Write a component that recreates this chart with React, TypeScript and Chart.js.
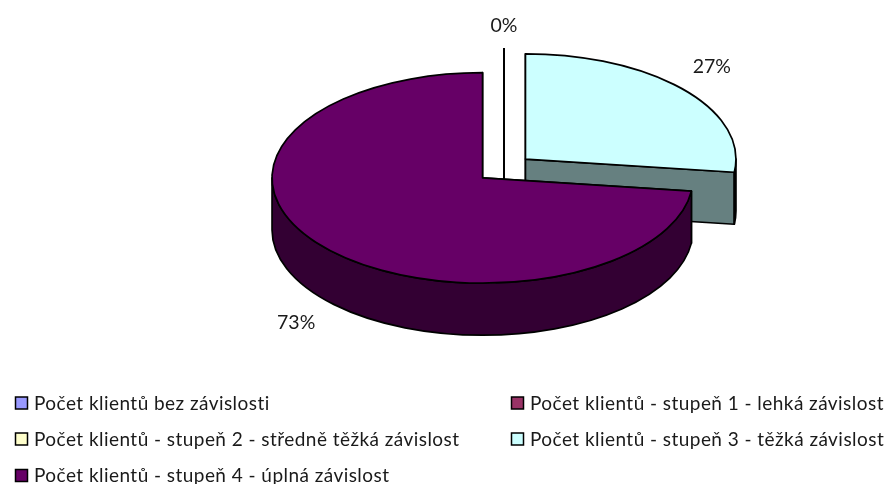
import React, { useEffect, useRef } from "react";
import { Chart, registerables } from "chart.js";

Chart.register(...registerables);

const categories = [
  "Počet klientů bez závislosti",
  "Počet klientů - stupeň 1 - lehká závislost",
  "Počet klientů - stupeň 2 - středně těžká závislost",
  "Počet klientů - stupeň 3 - těžká závislost",
  "Počet klientů - stupeň 4 - úplná závislost",
];
const shares = [0, 0, 0, 27, 73];
const topColors = ["#9999FF", "#993366", "#FFFFCC", "#CCFFFF", "#660066"];
const sideColors = ["#4D4D80", "#4D1A33", "#808066", "#668080", "#330033"];

const FONT = "Lato, Carlito, sans-serif";
const LABEL_SIZE = 19.5;
const LEGEND_SIZE = 19;
const SQUASH = 0.5;
const DEPTH = 52;
const EXPLODE = 28.6;
const RADIUS = 210.5;
const LINE = "#000";

const pie3d = {
  id: "pie3d",
  beforeDatasetsDraw(chart: any) {
    const ctx: any = chart.ctx;
    const arcs = chart.getDatasetMeta(0).data;
    const lw = 1.7;
    const geo = arcs.map((el: any) => {
      const mid = (el.startAngle + el.endAngle) / 2;
      const cx = el.x + Math.cos(mid) * EXPLODE;
      const cy = el.y + Math.sin(mid) * EXPLODE * SQUASH;
      const r = el.outerRadius;
      return { el, mid, cx, cy, r, s: el.startAngle, e: el.endAngle };
    });
    const pt = (g: any, a: number, dz = 0) => [
      g.cx + Math.cos(a) * g.r,
      g.cy + Math.sin(a) * g.r * SQUASH + dz,
    ];

    ctx.save();
    ctx.lineWidth = lw;
    ctx.strokeStyle = LINE;
    ctx.lineJoin = "round";

    // Sides, back to front
    geo.forEach((g: any, i: number) => {
      ctx.fillStyle = sideColors[i];
      [g.s, g.e].forEach((a: number) => {
        const p = pt(g, a);
        ctx.beginPath();
        ctx.moveTo(g.cx, g.cy);
        ctx.lineTo(p[0], p[1]);
        ctx.lineTo(p[0], p[1] + DEPTH);
        ctx.lineTo(g.cx, g.cy + DEPTH);
        ctx.closePath();
        ctx.fill();
        ctx.stroke();
      });
      const from = Math.max(g.s, 0);
      const to = Math.min(g.e, Math.PI);
      if (to > from) {
        ctx.beginPath();
        ctx.ellipse(g.cx, g.cy, g.r, g.r * SQUASH, 0, from, to);
        ctx.ellipse(g.cx, g.cy + DEPTH, g.r, g.r * SQUASH, 0, to, from, true);
        ctx.closePath();
        ctx.fill();
        ctx.stroke();
      }
    });

    // Top faces, drawn by the library's arc elements on a squashed context
    geo.forEach((g: any) => {
      ctx.save();
      ctx.translate(g.cx, g.cy);
      ctx.scale(1, SQUASH);
      ctx.translate(-g.el.x, -g.el.y);
      g.el.draw(ctx);
      ctx.restore();
      if (g.e > g.s) {
        ctx.beginPath();
        ctx.moveTo(g.cx, g.cy);
        ctx.ellipse(g.cx, g.cy, g.r, g.r * SQUASH, 0, g.s, g.e);
        ctx.closePath();
        ctx.stroke();
      }
    });
    ctx.restore();

    // Percent labels
    const total = shares.reduce((a, b) => a + b, 0);
    ctx.save();
    ctx.font = `${LABEL_SIZE}px ${FONT}`;
    ctx.fillStyle = "#1a1a1a";
    ctx.textAlign = "center";
    ctx.textBaseline = "middle";
    let zeroDone = false;
    geo.forEach((g: any, i: number) => {
      if (shares[i] === 0) {
        if (zeroDone) return;
        zeroDone = true;
      }
      const p = pt(g, g.mid);
      const c = Math.cos(g.mid);
      const s = Math.sin(g.mid);
      const x = p[0] + c * 38;
      const y = p[1] + (s < -0.99 ? s * 23 : s * 34) + (s > 0 ? DEPTH + 1 : 0);
      ctx.fillText(`${Math.round((shares[i] / total) * 100)}%`, x, y);
    });
    ctx.restore();

    // Legend
    const cols = [15, 511];
    const rows = [403.5, 439.5, 476];
    ctx.save();
    ctx.font = `${LEGEND_SIZE}px ${FONT}`;
    ctx.letterSpacing = "0.45px";
    ctx.textBaseline = "middle";
    ctx.textAlign = "left";
    categories.forEach((label, i) => {
      const x = cols[i % 2];
      const y = rows[Math.floor(i / 2)];
      ctx.fillStyle = topColors[i];
      ctx.fillRect(x + 0.5, y - 6.5, 12, 12);
      ctx.strokeStyle = LINE;
      ctx.lineWidth = 1.5;
      ctx.strokeRect(x + 0.5, y - 6.5, 12, 12);
      ctx.fillStyle = "#1a1a1a";
      ctx.fillText(label, x + 19, y);
    });
    ctx.restore();
    return false;
  },
};

export default function App() {
  const ref = useRef<HTMLCanvasElement | null>(null);
  useEffect(() => {
    document.body.style.margin = "0";
    const chart = new Chart(ref.current as HTMLCanvasElement, {
      type: "pie",
      data: {
        labels: categories,
        datasets: [
          {
            data: shares,
            backgroundColor: topColors,
            borderWidth: 0,
            radius: RADIUS,
            clip: false,
          } as any,
        ],
      },
      options: {
        responsive: false,
        animation: false,
        events: [],
        layout: { padding: { left: 119, bottom: 147 } },
        plugins: { legend: { display: false }, tooltip: { enabled: false } },
      },
      plugins: [pie3d],
    });
    return () => chart.destroy();
  }, []);
  return <canvas ref={ref} width={889} height={484} style={{ display: "block" }} />;
}
